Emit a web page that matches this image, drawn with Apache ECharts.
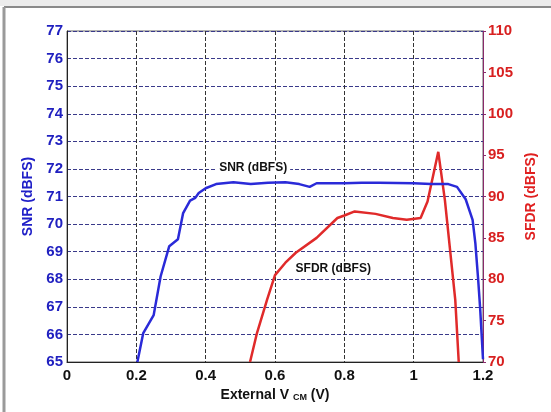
<!DOCTYPE html>
<html>
<head>
<meta charset="utf-8">
<title>SNR / SFDR vs External VCM</title>
<script src="https://cdn.jsdelivr.net/npm/echarts@6/dist/echarts.min.js"></script>
<style>
  html, body { margin: 0; padding: 0; background: #fff; }
  #main { width: 551px; height: 412px; }
</style>
</head>
<body>
<div id="main"></div>
<script>
// SNR (dBFS) vs external VCM (V)
var snrX = [0.203, 0.22, 0.25, 0.27, 0.295, 0.32, 0.335, 0.355, 0.37, 0.38, 0.40, 0.43, 0.48, 0.53, 0.58, 0.63, 0.67, 0.70, 0.72, 0.80, 0.85, 0.90, 1.00, 1.05, 1.10, 1.125, 1.15, 1.17, 1.178, 1.186, 1.192, 1.20];
var snrY = [65.0, 66.05, 66.7, 68.1, 69.2, 69.45, 70.4, 70.85, 70.95, 71.13, 71.3, 71.45, 71.52, 71.45, 71.5, 71.52, 71.45, 71.35, 71.48, 71.48, 71.5, 71.5, 71.48, 71.45, 71.45, 71.35, 70.9, 70.15, 69.3, 68.0, 66.9, 65.1];

// SFDR (dBFS) vs external VCM (V)
var sfdrX = [0.528, 0.548, 0.577, 0.60, 0.63, 0.66, 0.72, 0.78, 0.80, 0.83, 0.89, 0.94, 0.98, 1.02, 1.04, 1.071, 1.09, 1.12, 1.13];
var sfdrY = [70.0, 73.5, 77.5, 80.5, 82.0, 83.2, 85.0, 87.4, 87.7, 88.2, 87.9, 87.4, 87.2, 87.4, 89.4, 95.4, 89.6, 77.5, 70.0];

function pairs(xs, ys) {
  return xs.map(function (x, i) { return [x, ys[i]]; });
}

var myChart = echarts.init(document.getElementById('main'));
var font = 'Liberation Sans, Arial, sans-serif';

var option = {
  animation: false,
  backgroundColor: '#fff',
  graphic: [
    { type: 'rect', shape: { x: 0, y: 0, width: 551, height: 6 }, style: { fill: '#ececec' } },
    { type: 'line', shape: { x1: 4, y1: 7, x2: 551, y2: 7 }, style: { stroke: '#8a8a8a', lineWidth: 2 } },
    { type: 'line', shape: { x1: 4, y1: 7, x2: 4, y2: 412 }, style: { stroke: '#9a9a9a', lineWidth: 3 } }
  ],
  grid: { left: 67, right: 68, top: 31, bottom: 50, show: true, borderColor: '#666', borderWidth: 1 },
  xAxis: {
    type: 'value', min: 0, max: 1.2, interval: 0.2,
    name: '{a|External V }{b|CM}{a| (V)}',
    nameLocation: 'middle', nameGap: 24,
    nameTextStyle: {
      rich: {
        a: { fontFamily: font, fontWeight: 'bold', fontSize: 14, color: '#111' },
        b: { fontFamily: font, fontWeight: 'bold', fontSize: 9, color: '#111', padding: [5, 0, 0, 0] }
      }
    },
    axisLine: { lineStyle: { color: '#222', width: 1 } },
    axisTick: { show: false },
    axisLabel: { color: '#111', fontFamily: font, fontWeight: 'bold', fontSize: 15, margin: 6 },
    splitLine: { show: true, lineStyle: { color: '#333', type: [4, 2], width: 1 } }
  },
  yAxis: [
    {
      type: 'value', min: 65, max: 77, interval: 1, position: 'left',
      name: 'SNR (dBFS)', nameLocation: 'middle', nameGap: 30, nameRotate: 90,
      nameTextStyle: { color: '#2020c8', fontFamily: font, fontWeight: 'bold', fontSize: 14 },
      axisLine: { show: true, lineStyle: { color: '#222' } },
      axisTick: { show: false },
      axisLabel: { color: '#2020c0', fontFamily: font, fontWeight: 'bold', fontSize: 15, margin: 4 },
      splitLine: { show: true, lineStyle: { color: '#3a3a8a', type: [4, 2], width: 1 } }
    },
    {
      type: 'value', min: 70, max: 110, interval: 5, position: 'right',
      name: 'SFDR (dBFS)', nameLocation: 'middle', nameGap: 40, nameRotate: 90,
      nameTextStyle: { color: '#e02020', fontFamily: font, fontWeight: 'bold', fontSize: 14 },
      axisLine: { show: true, lineStyle: { color: '#8a2a6a' } },
      axisTick: { show: true, inside: false, length: 3, lineStyle: { color: '#8a2a6a' } },
      axisLabel: { color: '#d82020', fontFamily: font, fontWeight: 'bold', fontSize: 15, margin: 5 },
      splitLine: { show: false }
    }
  ],
  series: [
    {
      name: 'SNR (dBFS)', type: 'line', yAxisIndex: 0,
      data: pairs(snrX, snrY), showSymbol: false, smooth: false,
      lineStyle: { color: '#2a2ad8', width: 2.5 },
      markPoint: {
        symbol: 'circle', symbolSize: 0,
        label: {
          show: true, position: 'inside', formatter: 'SNR (dBFS)',
          color: '#111', fontFamily: font, fontWeight: 'bold', fontSize: 12,
          backgroundColor: '#fff', padding: [1, 3]
        },
        data: [{ coord: [0.537, 72.05] }]
      },
      z: 3
    },
    {
      name: 'SFDR (dBFS)', type: 'line', yAxisIndex: 1,
      data: pairs(sfdrX, sfdrY), showSymbol: false, smooth: false,
      lineStyle: { color: '#e02a2a', width: 2.5 },
      markPoint: {
        symbol: 'circle', symbolSize: 0,
        label: {
          show: true, position: 'inside', formatter: 'SFDR (dBFS)',
          color: '#111', fontFamily: font, fontWeight: 'bold', fontSize: 12,
          backgroundColor: '#fff', padding: [1, 4]
        },
        data: [{ coord: [0.768, 81.3] }]
      },
      z: 2
    }
  ]
};

myChart.setOption(option);
</script>
</body>
</html>
